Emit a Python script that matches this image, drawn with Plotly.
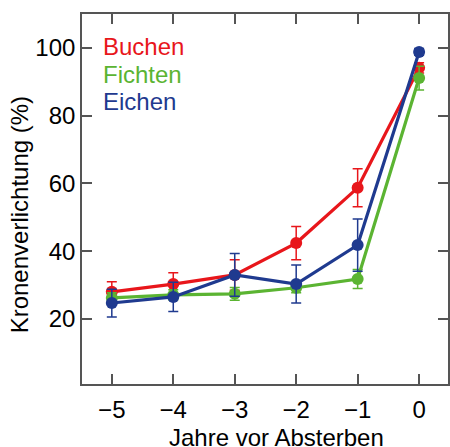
import plotly.graph_objects as go

# Years before dieback
years = [-5, -4, -3, -2, -1, 0]
year_labels = ["−5", "−4", "−3", "−2", "−1", "0"]

# Crown defoliation (%) per species, with error margins
buchen = [28.0, 30.3, 33.0, 42.4, 58.7, 94.1]
buchen_err = [3.0, 3.3, 4.5, 4.9, 5.6, 1.5]

fichten = [26.2, 27.1, 27.4, 29.2, 31.8, 91.1]
fichten_err = [1.5, 1.5, 1.9, 1.5, 2.8, 3.5]

eichen = [24.7, 26.5, 33.0, 30.3, 41.8, 98.8]
eichen_err = [4.1, 4.3, 6.3, 5.6, 7.7, 1.0]

species = ["Buchen", "Fichten", "Eichen"]
colors = ["#E8161B", "#5BB432", "#1F3A8F"]
values = [buchen, fichten, eichen]
errors = [buchen_err, fichten_err, eichen_err]

y_ticks = [20, 40, 60, 80, 100]

FONT = "Liberation Sans, Arial, Helvetica, sans-serif"
AXIS_COLOR = "#555555"

W, H = 450, 447
L, R, T, B = 82, 0, 14, 63
PW, PH = W - L - R, H - T - B


def px_x(px):
    return (px - L) / PW


def px_y(py):
    return (H - B - py) / PH


fig = go.Figure()
for name, color, vals, errs in zip(species, colors, values, errors):
    fig.add_trace(go.Scatter(
        x=years, y=vals, name=name, mode="lines+markers",
        line=dict(color=color, width=3.2),
        marker=dict(color=color, size=12),
        error_y=dict(type="data", array=errs, visible=True,
                     color=color, thickness=1.5, width=5),
        showlegend=False,
    ))

# Coloured species labels in the upper left corner
for i, (name, color) in enumerate(zip(species, colors)):
    fig.add_annotation(
        text=name, xref="paper", yref="paper",
        x=px_x(101), y=px_y(47 + 27.3 * i),
        xanchor="left", yanchor="middle", showarrow=False,
        font=dict(family=FONT, size=24, color=color),
    )

# Axis titles
fig.add_annotation(
    text="Jahre vor Absterben", xref="paper", yref="paper",
    x=px_x(278), y=px_y(437), xanchor="center", yanchor="middle",
    showarrow=False, font=dict(family=FONT, size=24, color="black"),
)
fig.add_annotation(
    text="Kronenverlichtung (%)", xref="paper", yref="paper",
    x=px_x(19), y=px_y(215), xanchor="center", yanchor="middle",
    textangle=-90, showarrow=False,
    font=dict(family=FONT, size=24, color="black"),
)

axis_common = dict(
    showline=True, linecolor=AXIS_COLOR, linewidth=1.6, mirror="ticks",
    ticks="inside", ticklen=10, tickwidth=1.5, tickcolor=AXIS_COLOR,
    showgrid=False, zeroline=False,
    tickfont=dict(family=FONT, size=24, color="black"),
)

fig.update_layout(
    width=W, height=H,
    margin=dict(l=L, r=R, t=T, b=B),
    paper_bgcolor="white", plot_bgcolor="white",
    xaxis=dict(range=[-5.485, 0.47], tickmode="array",
               tickvals=years, ticktext=year_labels,
               ticklabelstandoff=3, **axis_common),
    yaxis=dict(range=[0.8, 110.0], tickmode="array",
               tickvals=y_ticks, ticktext=[str(v) for v in y_ticks],
               **axis_common),
    font=dict(family=FONT),
)

fig.write_html("out.html")
